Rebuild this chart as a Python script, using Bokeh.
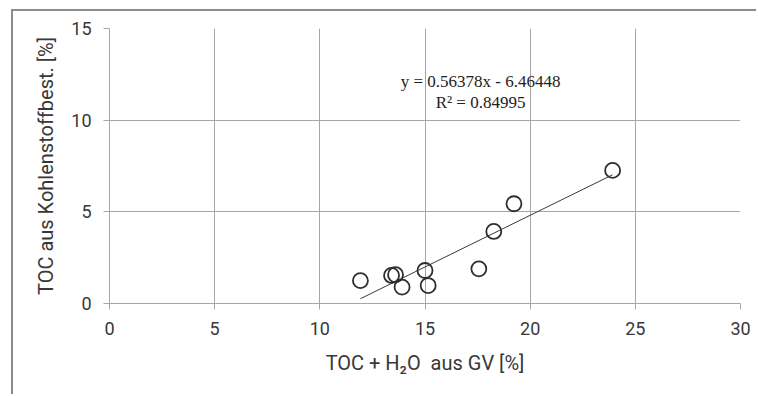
from bokeh.plotting import figure
from bokeh.models import Range1d, FixedTicker, Label
from bokeh.embed import file_html
from bokeh.resources import INLINE

# data
x_vals = [11.93, 13.41, 13.60, 13.91, 15.00, 15.15, 17.56, 18.27, 19.23, 23.92]
y_vals = [1.25, 1.53, 1.57, 0.89, 1.80, 0.98, 1.89, 3.93, 5.44, 7.26]
slope = 0.56378
intercept = -6.46448
r2 = 0.84995
x_ticks = [0, 5, 10, 15, 20, 25, 30]
y_ticks = [0, 5, 10, 15]
x_title = "TOC + H\u2082O\u00a0 aus GV [%]"
y_title = "TOC aus Kohlenstoffbest. [%]"

GRID = "#a6a6a6"
TXT = "#383838"

p = figure(width=745, height=385, output_backend="svg", toolbar_location=None,
           x_range=Range1d(0, 30), y_range=Range1d(0, 15),
           min_border_left=96, min_border_right=18, min_border_top=17, min_border_bottom=93,
           margin=(9, 0, 0, 11),
           styles={"border-left": "2px solid #8c8c8c", "border-top": "2px solid #8c8c8c"})
p.outline_line_color = None
p.background_fill_color = "white"
p.border_fill_color = "white"

p.xaxis.ticker = FixedTicker(ticks=x_ticks)
p.yaxis.ticker = FixedTicker(ticks=y_ticks)
p.xgrid.ticker = FixedTicker(ticks=x_ticks[1:])
p.ygrid.ticker = FixedTicker(ticks=[5, 10])
for g in (p.xgrid, p.ygrid):
    g.grid_line_color = GRID
    g.grid_line_width = 1

for ax in (p.xaxis, p.yaxis):
    ax.axis_line_color = GRID
    ax.major_tick_line_color = GRID
    ax.minor_tick_line_color = None
    ax.major_tick_in = 0
    ax.major_tick_out = 6
    ax.major_label_text_font = "Roboto"
    ax.major_label_text_font_size = "18px"
    ax.major_label_text_color = TXT
    ax.axis_label_text_font = "Roboto"
    ax.axis_label_text_font_size = "20px"
    ax.axis_label_text_font_style = "normal"
    ax.axis_label_text_color = TXT

p.xaxis.axis_label = x_title
p.yaxis.axis_label = y_title
p.xaxis.major_label_standoff = 12
p.yaxis.major_label_standoff = 12
p.xaxis.axis_label_standoff = 13
p.yaxis.axis_label_standoff = 10

# trendline from the printed equation, over the data span
x0, x1 = min(x_vals), max(x_vals)
p.line([x0, x1], [slope * x0 + intercept, slope * x1 + intercept],
       line_color="#3a3a3a", line_width=1)

p.scatter(x_vals, y_vals, marker="circle", size=15, fill_color=None,
          line_color="#2e2e2e", line_width=1.8)

eq1 = f"y = {slope}x - {abs(intercept)}"
eq2 = f"R\u00b2 = {r2}"
p.add_layout(Label(x=17.64, y=12.11, text=eq1, text_align="center", text_baseline="middle",
                   text_font="Liberation Serif", text_font_size="17px", text_color="#222222"))
p.add_layout(Label(x=17.64, y=10.97, text=eq2, text_align="center", text_baseline="middle",
                   text_font="Liberation Serif", text_font_size="17px", text_color="#222222"))

open("out.html", "w").write(file_html(p, INLINE))
